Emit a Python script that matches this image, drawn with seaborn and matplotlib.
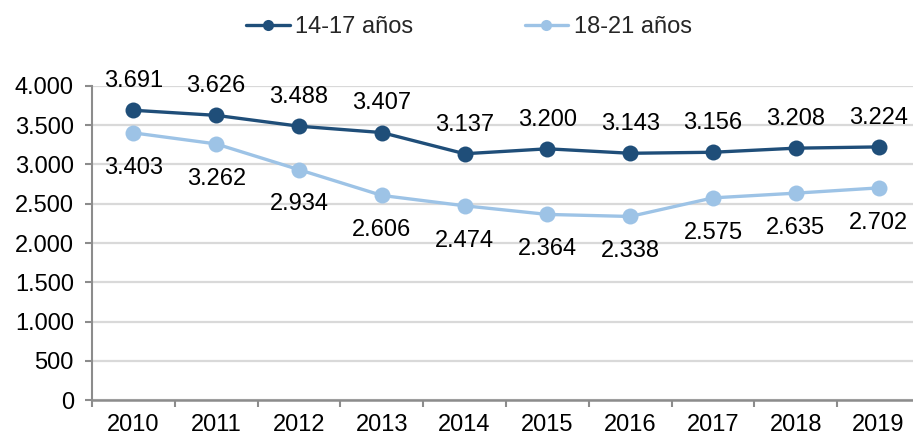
import matplotlib
matplotlib.use("Agg")
import matplotlib.pyplot as plt
import seaborn as sns
import pandas as pd
import numpy as np
from matplotlib.ticker import FuncFormatter, FixedLocator
from matplotlib.lines import Line2D

years = ["2010", "2011", "2012", "2013", "2014", "2015", "2016", "2017", "2018", "2019"]
serie_14_17 = [3691, 3626, 3488, 3407, 3137, 3200, 3143, 3156, 3208, 3224]
serie_18_21 = [3403, 3262, 2934, 2606, 2474, 2364, 2338, 2575, 2635, 2702]
series_names = ["14-17 años", "18-21 años"]
colors = ["#1F4E79", "#9DC3E6"]

sns.set_theme(style="white")
plt.rcParams["font.family"] = ["Liberation Sans", "DejaVu Sans"]

df = pd.DataFrame({
    "x": list(range(len(years))) * 2,
    "valor": serie_14_17 + serie_18_21,
    "serie": [series_names[0]] * len(years) + [series_names[1]] * len(years),
})

FS = 17
W, H = 913, 436
fig = plt.figure(figsize=(W / 100, H / 100), dpi=100)
ax = fig.add_axes([92 / W, (H - 400) / H, 828 / W, (400 - 86) / H])

sns.lineplot(data=df, x="x", y="valor", hue="serie", palette=colors,
             marker="o", markersize=11.5, linewidth=2.4, markeredgewidth=0,
             ax=ax, legend=False, zorder=3)

ax.set_xlim(-0.5, len(years) - 0.5)
ax.set_ylim(0, 4000)
ax.set_yticks(np.arange(0, 4001, 500))
ax.yaxis.set_major_formatter(FuncFormatter(lambda v, p: f"{int(v):,}".replace(",", ".")))
ax.set_xticks(range(len(years)))
ax.set_xticklabels(years)
ax.xaxis.set_minor_locator(FixedLocator(np.arange(-0.5, len(years), 1.0)))
ax.tick_params(axis="x", which="major", length=0, labelsize=FS, pad=10, colors="black")
ax.tick_params(axis="x", which="minor", length=5, width=1.5, color="#8C8C8C", direction="out", bottom=True)
ax.tick_params(axis="y", which="major", length=5, width=1.5, color="#8C8C8C", direction="out", left=True,
               labelsize=FS, pad=8, labelcolor="black")
ax.set_xlabel("")
ax.set_ylabel("")

ax.grid(axis="y", color="#D9D9D9", linewidth=1.6)
ax.set_axisbelow(True)
for s in ["top", "right"]:
    ax.spines[s].set_visible(False)
ax.spines["left"].set_color("#8C8C8C")
ax.spines["left"].set_linewidth(1.5)
ax.spines["bottom"].set_color("#8C8C8C")
ax.spines["bottom"].set_linewidth(1.8)

fmt = lambda v: f"{v:,}".replace(",", ".")
for i, v in enumerate(serie_14_17):
    ax.annotate(fmt(v), (i, v), xytext=(0, 21), textcoords="offset points",
                ha="center", va="center", fontsize=FS, color="black")
for i, v in enumerate(serie_18_21):
    ax.annotate(fmt(v), (i, v), xytext=(0, -25), textcoords="offset points",
                ha="center", va="center", fontsize=FS, color="black")

handles = [Line2D([0], [0], color=c, marker="o", markersize=8, linewidth=2.4, markeredgewidth=0) for c in colors]
fig.legend(handles, series_names, loc="center", bbox_to_anchor=(469 / W, 1 - 27 / H),
           ncol=2, frameon=False, fontsize=FS, handlelength=1.85, columnspacing=4.7,
           handletextpad=0.25, borderpad=0, borderaxespad=0)

fig.savefig("out.png", dpi=100)
